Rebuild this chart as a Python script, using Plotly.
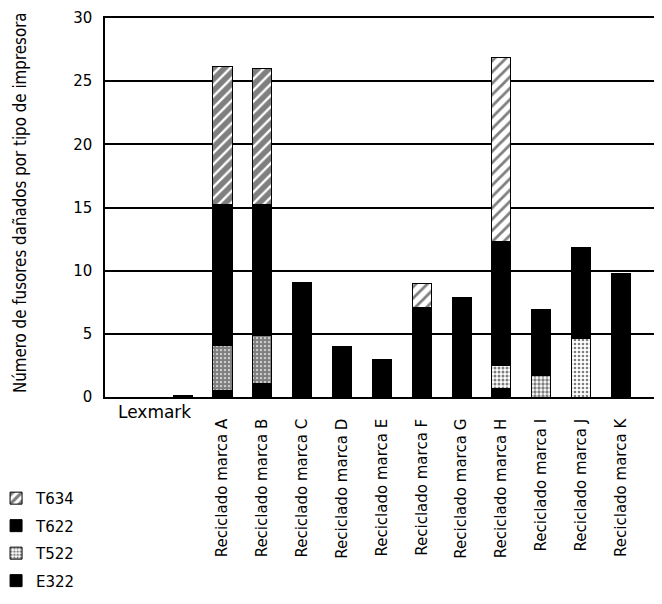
import plotly.graph_objects as go

categories = ["Lexmark", "Reciclado marca A", "Reciclado marca B", "Reciclado marca C",
              "Reciclado marca D", "Reciclado marca E", "Reciclado marca F", "Reciclado marca G",
              "Reciclado marca H", "Reciclado marca I", "Reciclado marca J", "Reciclado marca K"]
e322 = [0.15, 0.5, 1.1, 0, 0, 0, 0, 0, 0.7, 0, 0, 0]
t522 = [0, 3.6, 3.8, 0, 0, 0, 0, 0, 1.8, 1.7, 4.6, 0]
t622 = [0, 11.1, 10.3, 9.1, 4.0, 3.0, 7.1, 7.9, 9.8, 5.2, 7.2, 9.8]
t634 = [0, 11.0, 10.8, 0, 0, 0, 1.9, 0, 14.6, 0, 0, 0]
y_title = "Número de fusores dañados por tipo de impresora"

# per-bar pattern density (scan shows A and B much darker)
t634_solidity = [0.35, 0.7, 0.7, 0.35, 0.35, 0.35, 0.35, 0.35, 0.35, 0.35, 0.35, 0.35]
t522_solidity = [0.5, 0.8, 0.8, 0.5, 0.5, 0.5, 0.5, 0.5, 0.45, 0.55, 0.35, 0.5]

line = dict(color="black", width=1)
fig = go.Figure()
fig.add_trace(go.Bar(name="E322", x=categories, y=e322, legendgroup="e", legendrank=4,
                     marker=dict(color="black", line=line)))
fig.add_trace(go.Bar(name="T522", x=categories, y=t522, legendgroup="d", legendrank=3,
                     marker=dict(color="white", line=line,
                                 pattern=dict(shape=".", fgcolor="black", bgcolor="white",
                                              size=4, solidity=t522_solidity))))
fig.add_trace(go.Bar(name="T622", x=categories, y=t622, legendgroup="c", legendrank=2,
                     marker=dict(color="black", line=line)))
fig.add_trace(go.Bar(name="T634", x=categories, y=t634, legendgroup="b", legendrank=1,
                     marker=dict(color="white", line=line,
                                 pattern=dict(shape="/", fgcolor="black", bgcolor="white",
                                              size=8, solidity=t634_solidity))))

# the page places the figure 8px from the top-left corner
fig.update_layout(
    width=654, height=596,
    margin=dict(l=97, r=4, t=10, b=207, autoexpand=False),
    paper_bgcolor="white", plot_bgcolor="white",
    barmode="stack", bargap=0.52,
    font=dict(family="DejaVu Sans", color="black"),
    showlegend=True,
    legend=dict(xref="paper", yref="paper", x=-0.197, y=-0.224,
                xanchor="left", yanchor="top", font=dict(family="DejaVu Sans", size=15),
                bgcolor="rgba(0,0,0,0)", tracegroupgap=5, traceorder="grouped"),
    xaxis=dict(type="category", categoryorder="array", categoryarray=categories,
               range=[-1.95, 11.93], tickvals=categories[1:], tickangle=-90,
               tickfont=dict(family="DejaVu Sans", size=15), automargin=False,
               showline=True, mirror=True, linecolor="black", linewidth=1.5,
               ticks="", ticklabelstandoff=14, showgrid=False),
    yaxis=dict(range=[0, 30], dtick=5, tick0=0, showgrid=True, gridcolor="black", gridwidth=1.5,
               showline=True, mirror=True, linecolor="black", linewidth=1.5, zeroline=False,
               automargin=False,
               tickfont=dict(family="DejaVu Sans", size=15), ticks="", ticklabelstandoff=8),
    annotations=[
        dict(text=y_title, textangle=-90, xref="paper", yref="paper",
             x=-0.1546, y=0.005, xanchor="center", yanchor="bottom", showarrow=False,
             font=dict(family="DejaVu Sans Condensed", size=16.8)),
        dict(text="Lexmark", xref="x", yref="paper", x="Lexmark", y=0, yanchor="top",
             xanchor="center", xshift=-28, yshift=-3, showarrow=False,
             font=dict(family="DejaVu Sans", size=17)),
    ],
)
fig.write_html("out.html")
